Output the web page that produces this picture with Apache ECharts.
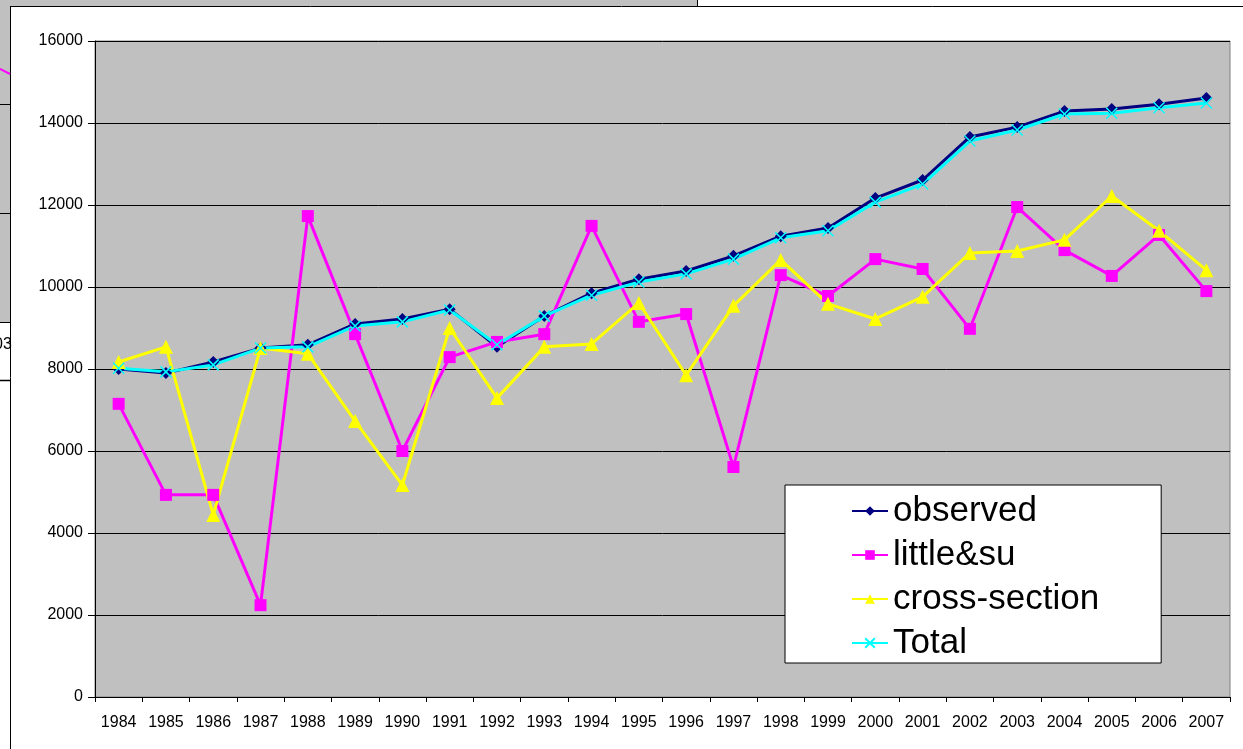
<!DOCTYPE html>
<html>
<head>
<meta charset="utf-8">
<script src="https://cdn.jsdelivr.net/npm/echarts@6/dist/echarts.min.js"></script>
<style>
  html, body { margin: 0; padding: 0; background: #fff; }
  #chart { width: 1243px; height: 749px; }
</style>
</head>
<body>
<div id="chart"></div>
<script>
var years = ['1984','1985','1986','1987','1988','1989','1990','1991','1992','1993','1994','1995',
             '1996','1997','1998','1999','2000','2001','2002','2003','2004','2005','2006','2007'];

var observed = [8000, 7900, 8170, 8510, 8590, 9100, 9220, 9460, 8540, 9290, 9850, 10190,
                10390, 10760, 11240, 11440, 12170, 12610, 13660, 13900, 14290, 14340, 14460, 14610];

var littleSu = [7150, 4930, 4930, 2240, 11730, 8850, 6000, 8290, 8660, 8850, 11490, 9150,
                9340, 5610, 10290, 9780, 10680, 10440, 8980, 11950, 10900, 10270, 11270, 9900];

var crossSection = [8170, 8540, 4440, 8510, 8370, 6730, 5170, 9000, 7290, 8540, 8610, 9610,
                    7850, 9540, 10660, 9590, 9220, 9760, 10830, 10880, 11150, 12220, 11370, 10410];

var total = [8020, 7930, 8100, 8510, 8540, 9050, 9150, 9440, 8590, 9290, 9800, 10120,
             10320, 10680, 11200, 11370, 12070, 12510, 13560, 13830, 14220, 14240, 14370, 14490];

var font = 'Liberation Sans, Arial, sans-serif';

var chart = echarts.init(document.getElementById('chart'));
chart.setOption({
    animation: false,
    backgroundColor: '#fff',
    // bits of the screenshot's surrounding window
    graphic: [
        { type: 'rect', shape: { x: 0, y: 0, width: 697, height: 6 }, style: { fill: '#C0C0C0' }, silent: true },
        { type: 'line', shape: { x1: 0, y1: 6.5, x2: 1243, y2: 6.5 }, style: { stroke: '#000', lineWidth: 1 } },
        { type: 'line', shape: { x1: 697.5, y1: 0, x2: 697.5, y2: 6 }, style: { stroke: '#000', lineWidth: 1 } },
        { type: 'rect', shape: { x: 0, y: 6, width: 10, height: 316 }, style: { fill: '#C0C0C0' }, silent: true },
        { type: 'line', shape: { x1: 10.5, y1: 6, x2: 10.5, y2: 749 }, style: { stroke: '#000', lineWidth: 1 } },
        { type: 'line', shape: { x1: 0, y1: 104.5, x2: 10, y2: 104.5 }, style: { stroke: '#000', lineWidth: 1 } },
        { type: 'line', shape: { x1: 0, y1: 213.5, x2: 10, y2: 213.5 }, style: { stroke: '#000', lineWidth: 1 } },
        { type: 'line', shape: { x1: 0, y1: 322.5, x2: 10, y2: 322.5 }, style: { stroke: '#000', lineWidth: 1 } },
        { type: 'line', shape: { x1: 0, y1: 380.5, x2: 10, y2: 380.5 }, style: { stroke: '#000', lineWidth: 1.5 } },
        { type: 'line', shape: { x1: 0, y1: 69, x2: 10, y2: 74 }, style: { stroke: '#FF00FF', lineWidth: 2 } },
        { type: 'text', left: -6, top: 337, style: { text: '03', fontSize: 16, fontFamily: font, fill: '#000' } }
    ],
    grid: {
        left: 95, top: 41, right: 13, bottom: 52,
        show: true,
        backgroundColor: '#C0C0C0',
        borderColor: '#808080',
        borderWidth: 1
    },
    legend: {
        orient: 'vertical',
        left: 785, top: 485,
        backgroundColor: '#fff',
        borderColor: '#000',
        borderWidth: 1,
        padding: [6, 62, 0, 66],
        itemWidth: 36,
        itemHeight: 12,
        itemGap: 4,
        textStyle: { fontSize: 35, lineHeight: 40, fontFamily: font, color: '#000' },
        data: ['observed', 'little&su', 'cross-section', 'Total']
    },
    xAxis: {
        type: 'category',
        data: years,
        axisLine: { lineStyle: { color: '#000', width: 1 } },
        axisTick: { show: true, length: 5, lineStyle: { color: '#000' } },
        axisLabel: { fontSize: 16, fontFamily: font, color: '#000', margin: 18 }
    },
    yAxis: {
        type: 'value',
        min: 0, max: 16000, interval: 2000,
        axisLine: { show: true, lineStyle: { color: '#000', width: 1 } },
        axisTick: { show: true, length: 7, lineStyle: { color: '#000' } },
        axisLabel: { fontSize: 16, fontFamily: font, color: '#000', margin: 12,
                     formatter: function (v) { return String(v); } },
        splitLine: { lineStyle: { color: '#000', width: 1 } }
    },
    series: [
        {
            name: 'observed', type: 'line', data: observed,
            symbol: 'diamond', symbolSize: 12,
            lineStyle: { color: '#000080', width: 3 },
            itemStyle: { color: '#000080' }
        },
        {
            name: 'little&su', type: 'line', data: littleSu,
            symbol: 'rect', symbolSize: 12,
            lineStyle: { color: '#FF00FF', width: 3 },
            itemStyle: { color: '#FF00FF' }
        },
        {
            name: 'cross-section', type: 'line', data: crossSection,
            symbol: 'triangle', symbolSize: 14,
            lineStyle: { color: '#FFFF00', width: 3 },
            itemStyle: { color: '#FFFF00' }
        },
        {
            name: 'Total', type: 'line', data: total,
            symbol: 'path://M0,0L10,10M10,0L0,10', symbolSize: 11,
            lineStyle: { color: '#00FFFF', width: 3 },
            itemStyle: { color: 'none', borderColor: '#00FFFF', borderWidth: 1.5 }
        }
    ]
});
</script>
</body>
</html>
